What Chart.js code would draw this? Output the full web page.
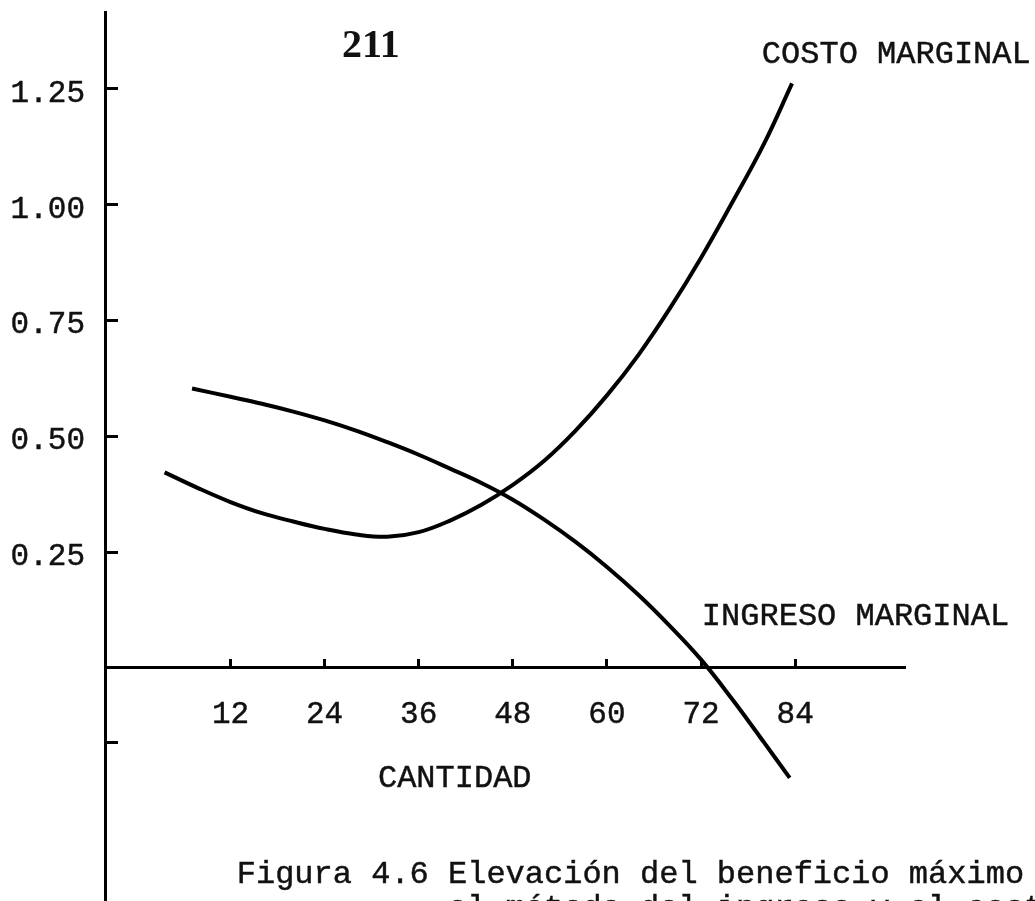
<!DOCTYPE html>
<html lang="es">
<head>
<meta charset="utf-8">
<title>Figura 4.6</title>
<script src="https://cdn.jsdelivr.net/npm/chart.js@4.4.1/dist/chart.umd.min.js"></script>
<style>
  html, body { margin: 0; padding: 0; background: #fff; }
  canvas { display: block; background: #fff; }
</style>
</head>
<body>
<canvas id="chart" width="1035" height="901"></canvas>
<script>
//--------------------- Data ---------------------

// costo marginal (U shaped curve)
const costQty = [3.6, 8, 12, 16, 20, 24, 28, 32, 36, 40, 44, 48, 52, 56, 60, 64, 68, 72, 76, 80, 83.6];
const costVal = [0.422, 0.387, 0.358, 0.334, 0.316, 0.300, 0.288, 0.283, 0.293, 0.318, 0.352, 0.395, 0.447, 0.512, 0.588, 0.675, 0.775, 0.885, 1.005, 1.13, 1.261];

// ingreso marginal (falling curve)
const revQty = [7.1, 12, 16, 20, 24, 28, 32, 36, 40, 44, 48, 52, 56, 60, 64, 68, 72, 76, 80, 83.3];
const revVal = [0.603, 0.585, 0.570, 0.553, 0.534, 0.512, 0.487, 0.460, 0.430, 0.399, 0.363, 0.320, 0.272, 0.218, 0.158, 0.091, 0.018, -0.068, -0.160, -0.237];

const xTickValues = [12, 24, 36, 48, 60, 72, 84];
const yTickValues = [-0.16, 0.25, 0.5, 0.75, 1.0, 1.25];
const yTickLabels = ["", "0.25", "0.50", "0.75", "1.00", "1.25"];

const pageNumber = "211";
const costLabel = "COSTO MARGINAL";
const revLabel = "INGRESO MARGINAL";
const qtyLabel = "CANTIDAD";
const captionLines = [
  "Figura 4.6 Elevación del beneficio máximo",
  "           el método del ingreso y el costo",
];

//--------------------- Chart ---------------------

const typeFont = "Liberation Mono, Courier New, monospace";
const tickFont = { family: typeFont, size: 31 };
const inkWidth = 0.45;

const toPoints = (xs, ys) => xs.map((x, i) => ({ x: x, y: ys[i] }));

const curveStyle = {
  borderColor: "#000",
  borderWidth: 4,
  pointRadius: 0,
  fill: false,
  tension: 0.4,
};

// drop the half-label margins chart.js keeps at the axis ends
const noEndPadding = (axis) => {
  axis.paddingTop = 0;
  axis.paddingBottom = 0;
  axis.paddingLeft = 0;
  axis.paddingRight = 0;
};

// typewriter text, slightly heavier than the plain font
function typeText(ctx, text, x, y) {
  ctx.strokeText(text, x, y);
  ctx.fillText(text, x, y);
}

// text written on the page around the axes
const pageText = {
  id: "pageText",
  afterDraw(chart) {
    const { ctx } = chart;
    const x = chart.scales.x;
    const y = chart.scales.y;
    ctx.save();
    ctx.fillStyle = "#111";
    ctx.strokeStyle = "#111";
    ctx.lineWidth = inkWidth;
    ctx.textBaseline = "alphabetic";

    ctx.font = "bold 40px Liberation Serif, Times New Roman, serif";
    ctx.textAlign = "center";
    ctx.fillText(pageNumber, x.getPixelForValue(29.9), y.getPixelForValue(1.318));

    ctx.font = "32px " + typeFont;
    ctx.textAlign = "left";
    typeText(ctx, costLabel, x.getPixelForValue(79.75), y.getPixelForValue(1.305));
    typeText(ctx, revLabel, x.getPixelForValue(72.1), y.getPixelForValue(0.093));
    typeText(ctx, qtyLabel, x.getPixelForValue(30.8), y.getPixelForValue(-0.257));
    typeText(ctx, captionLines[0], x.getPixelForValue(12.8), y.getPixelForValue(-0.464));
    typeText(ctx, captionLines[1], x.getPixelForValue(12.8), y.getPixelForValue(-0.537));
    ctx.restore();
  },
};

const ctx = document.getElementById("chart").getContext("2d");

new Chart(ctx, {
  type: "line",
  data: {
    datasets: [
      { label: costLabel, data: toPoints(costQty, costVal), ...curveStyle },
      { label: revLabel, data: toPoints(revQty, revVal), ...curveStyle },
    ],
  },
  options: {
    responsive: false,
    animation: false,
    layout: { padding: { top: 12, right: 130, bottom: 0, left: 0 } },
    plugins: {
      legend: { display: false },
      tooltip: { enabled: false },
    },
    scales: {
      x: {
        type: "linear",
        position: { y: 0 },
        min: -4,
        max: 98,
        afterBuildTicks: (axis) => {
          axis.ticks = xTickValues.map((v) => ({ value: v }));
        },
        afterFit: noEndPadding,
        grid: { drawOnChartArea: false, tickLength: -10, tickWidth: 3, tickColor: "#000" },
        border: { color: "#000", width: 3 },
        ticks: {
          color: "#111",
          font: tickFont,
          padding: 38,
          maxRotation: 0,
          autoSkip: false,
          textStrokeColor: "#111",
          textStrokeWidth: inkWidth,
        },
      },
      y: {
        type: "linear",
        min: -0.5026,
        max: 1.415,
        afterBuildTicks: (axis) => {
          axis.ticks = yTickValues.map((v) => ({ value: v }));
        },
        afterFit: (axis) => {
          axis.width = 105;
          noEndPadding(axis);
        },
        grid: { drawOnChartArea: false, tickLength: -13, tickWidth: 3, tickColor: "#000" },
        border: { color: "#000", width: 3 },
        ticks: {
          color: "#111",
          font: tickFont,
          padding: 33,
          labelOffset: 5,
          autoSkip: false,
          textStrokeColor: "#111",
          textStrokeWidth: inkWidth,
          callback: (value, index) => yTickLabels[index],
        },
      },
    },
  },
  plugins: [pageText],
});
</script>
</body>
</html>
